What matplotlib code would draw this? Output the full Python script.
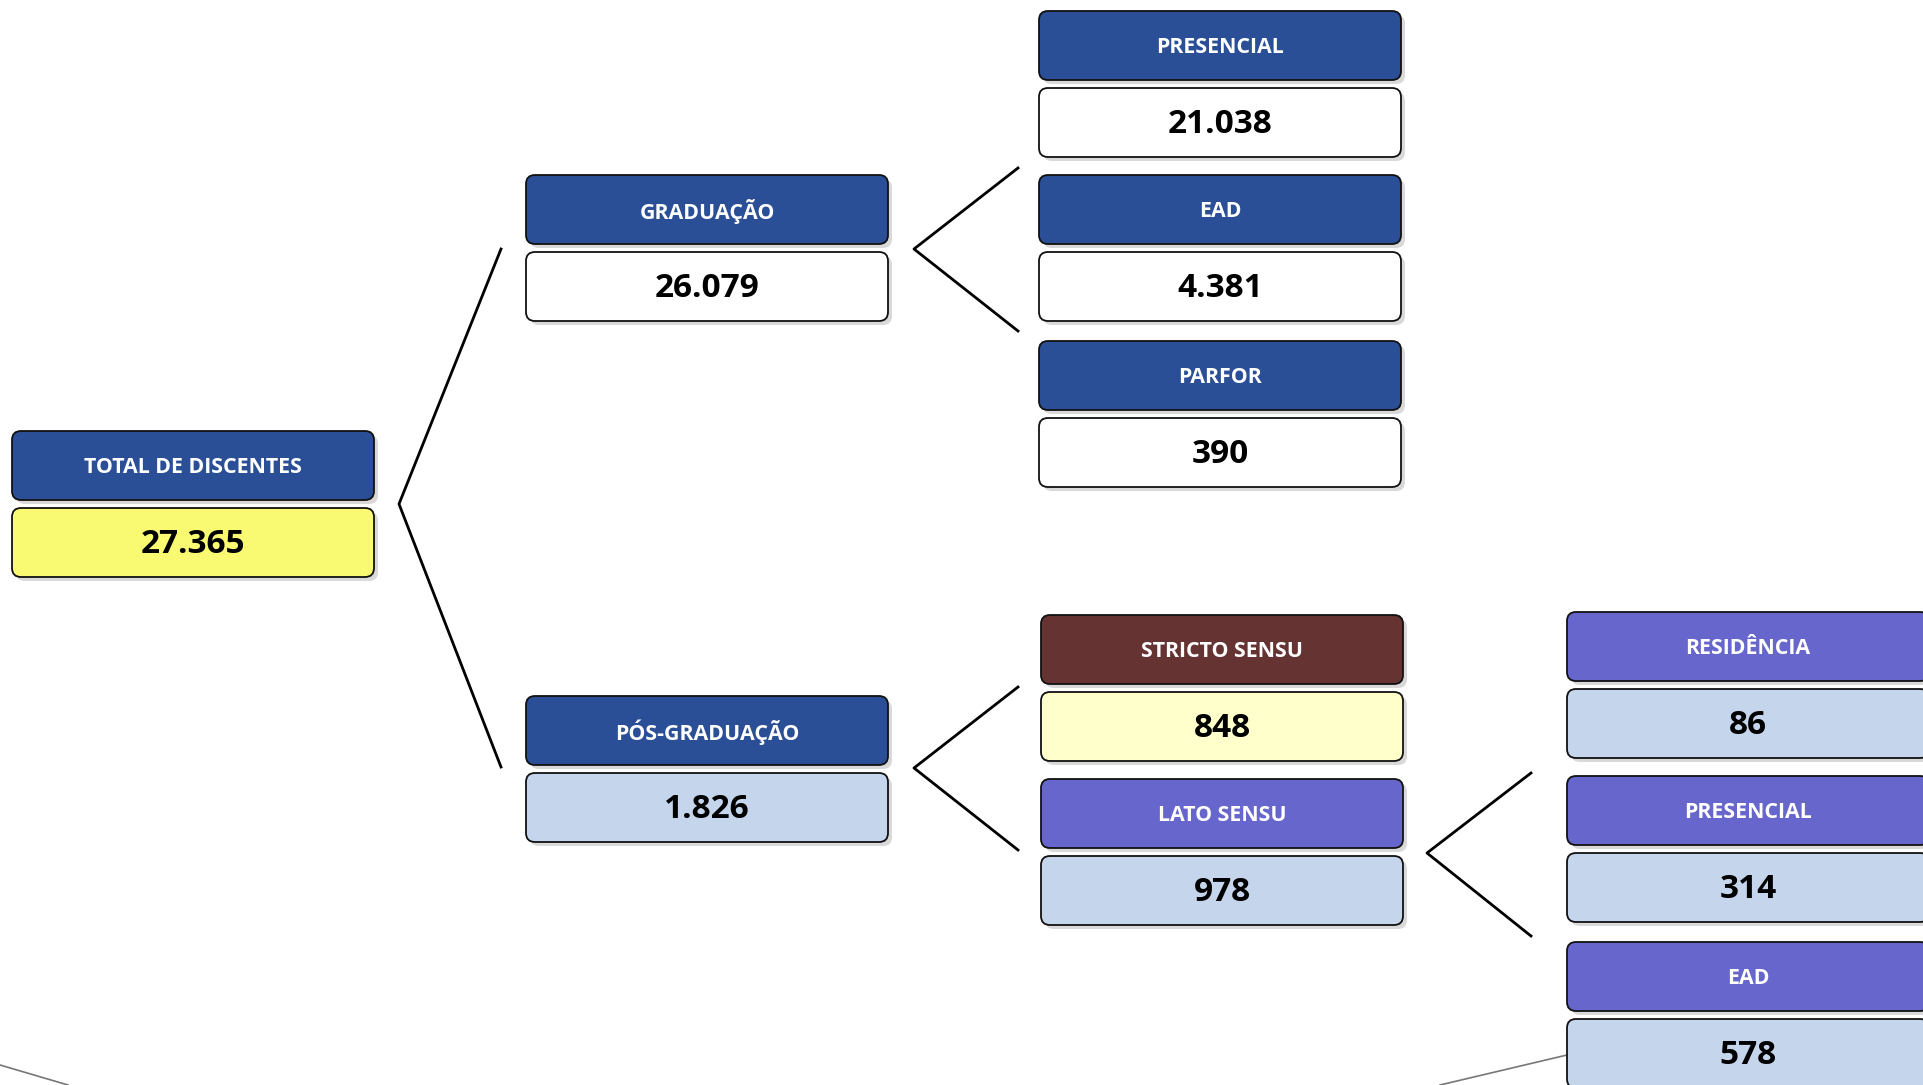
import matplotlib.pyplot as plt
from matplotlib.patches import FancyBboxPatch

# data
labels = ['TOTAL DE DISCENTES', 'GRADUAÇÃO', 'PÓS-GRADUAÇÃO',
          'PRESENCIAL', 'EAD', 'PARFOR',
          'STRICTO SENSU', 'LATO SENSU',
          'RESIDÊNCIA', 'PRESENCIAL', 'EAD']
values = ['27.365', '26.079', '1.826',
          '21.038', '4.381', '390',
          '848', '978',
          '86', '314', '578']

# layout (pixels: left x, header top y)
box_x = [12, 526, 526, 1039, 1039, 1039, 1041, 1041, 1567, 1567, 1567]
box_y = [431, 175, 696, 11, 175, 341, 615, 779, 612, 776, 942]
head_col = ['#2a4f96'] * 6 + ['#663333'] + ['#6666cc'] * 4
val_col = ['#f9f972', '#ffffff', '#c5d5ec', '#ffffff', '#ffffff', '#ffffff',
           '#ffffcc', '#c5d5ec', '#c5d5ec', '#c5d5ec', '#c5d5ec']

# branch connectors: (top end, apex, bottom end)
branches = [((501, 249), (399, 504), (501, 767)),
            ((1018, 168), (914, 249), (1018, 331)),
            ((1018, 687), (914, 768), (1018, 850)),
            ((1531, 773), (1427, 853), (1531, 936))]

W, H = 1924, 1085
bw, bh, gap = 362, 69, 8

fig = plt.figure(figsize=(W / 100, H / 100), dpi=100)
ax = fig.add_axes([0, 0, 1, 1])
ax.set_xlim(0, W)
ax.set_ylim(H, 0)
ax.axis('off')

font = 'Open Sans'


def rbox(x, y, color):
    sh = FancyBboxPatch((x + 4, y + 4), bw, bh,
                        boxstyle='round,pad=0,rounding_size=9',
                        fc='#d9d9d9', ec='none', zorder=2)
    ax.add_patch(sh)
    b = FancyBboxPatch((x, y), bw, bh,
                       boxstyle='round,pad=0,rounding_size=9',
                       fc=color, ec='#111111', lw=1.3, zorder=3)
    ax.add_patch(b)


# faint gray lines at the bottom
ax.plot([0, 68], [1065, 1085], color='#777777', lw=1.2, zorder=1)
ax.plot([1440, 1567], [1085, 1055], color='#777777', lw=1.2, zorder=1)

for top, apex, bot in branches:
    ax.plot([top[0], apex[0], bot[0]], [top[1], apex[1], bot[1]],
            color='black', lw=2, zorder=1)

for i in range(len(labels)):
    x, y = box_x[i], box_y[i]
    rbox(x, y, head_col[i])
    ax.text(x + bw / 2, y + bh / 2 + 2, labels[i], color='white',
            ha='center', va='center', fontsize=15.4, fontweight='bold',
            family=font, zorder=4)
    vy = y + bh + gap
    rbox(x, vy, val_col[i])
    ax.text(x + bw / 2, vy + bh / 2 + 2, values[i], color='black',
            ha='center', va='center', fontsize=24, fontweight='bold',
            family=font, zorder=4)

fig.savefig('out.png', dpi=100)
